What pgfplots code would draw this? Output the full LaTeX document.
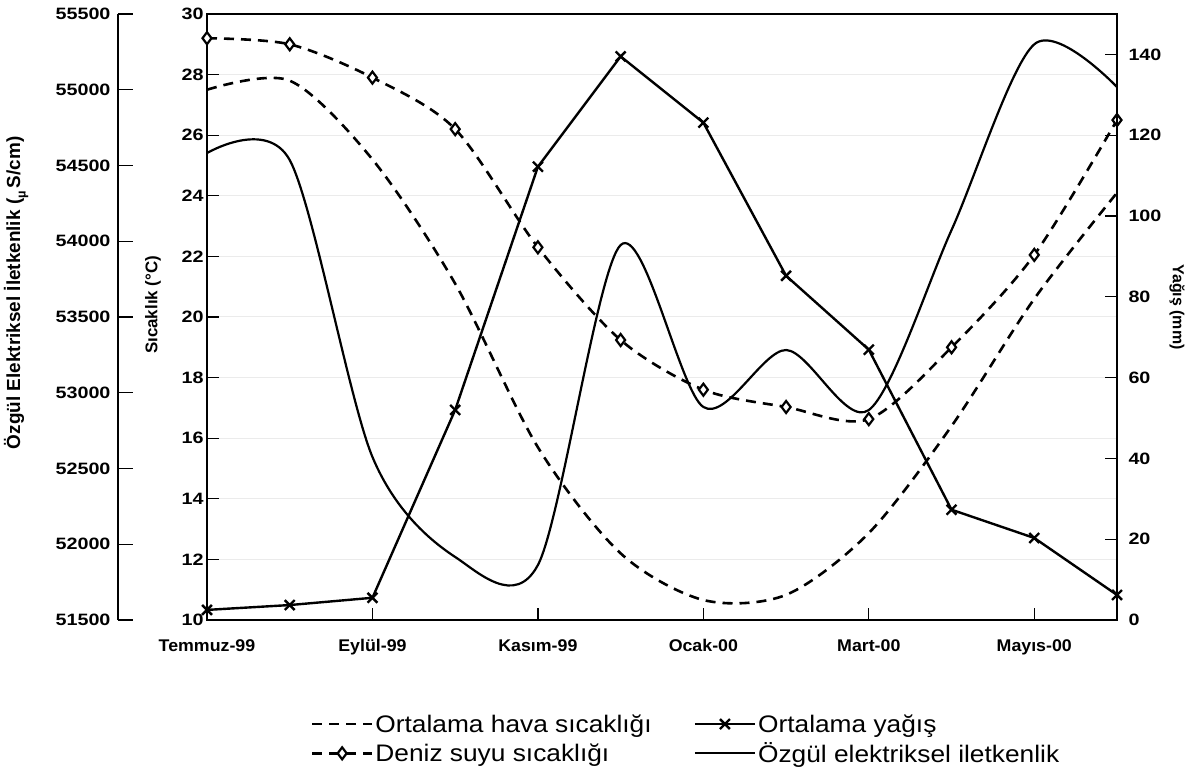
\documentclass[border=0pt]{standalone}
\usepackage{fontspec}
\setmainfont{Liberation Sans}
\newfontfamily\ytickfont{Liberation Sans}[FakeStretch=1.2]
\newfontfamily\xtickfont{Liberation Sans}[FakeStretch=1.05]
\newfontfamily\legfont{Liberation Sans}[FakeStretch=1.1]
\usepackage{pgfplots}
\pgfplotsset{compat=1.18}

\pgfplotsset{
  base/.style={
    scale only axis, height=606bp,
    tick align=inside,
    clip=false,
    tick style={black, line width=1.3bp},
    axis line style={line width=1.6bp},
    major tick length=12bp,
    y tick label style={font=\ytickfont\bfseries\fontsize{16.5}{18}\selectfont},
    x tick label style={font=\xtickfont\bfseries\fontsize{17}{19}\selectfont, yshift=-16bp},
  },
  legend image code/.code={%
    \draw[mark repeat=2,mark phase=2,#1] plot coordinates {(0bp,0bp) (30bp,0bp) (60bp,0bp)};%
  },
}

\begin{document}
\begin{tikzpicture}
\useasboundingbox (-207bp,-154bp) rectangle (987bp,620bp);

% temperature axis (inner left)
\begin{axis}[base,
  at={(0bp,0bp)}, anchor=south west, width=910bp,
  xmin=0, xmax=11, ymin=10, ymax=30,
  xtick={0,2,4,6,8,10},
  xticklabels={Temmuz-99,Eylül-99,Kasım-99,Ocak-00,Mart-00,Mayıs-00},
  ytick={10,12,14,16,18,20,22,24,26,28,30},
  yticklabels={10,12,14,16,18,20,22,24,26,28,30},
  xtick pos=bottom, ytick pos=left,
  ymajorgrids, grid style={black!8, line width=1bp},
  ylabel={\bfseries\fontsize{17}{19}\selectfont Sıcaklık (°C)},
  ylabel style={at={(axis description cs:-0.0594,0.52)}, anchor=center, rotate=0},
]
% Ortalama hava sicakligi
\addplot[black, line width=2.6bp, dash pattern=on 10bp off 7bp, smooth] coordinates {
(0,27.5) (1,27.8) (2,25.2) (3,21.1) (4,15.7) (5,12.2) (6,10.66) (7,10.83) (8,12.87) (9,16.4) (10,20.6) (11,24.1)};
% Deniz suyu sicakligi
\addplot[black, line width=2.6bp, dash pattern=on 10bp off 7bp, smooth,
  mark=diamond*, mark size=6bp, mark options={solid, fill=white, line width=2.2bp}] coordinates {
(0,29.2) (1,29.0) (2,27.9) (3,26.2) (4,22.3) (5,19.24) (6,17.6) (7,17.03) (8,16.63) (9,19.0) (10,22.05) (11,26.5)};
\end{axis}

% rain axis (right)
\begin{axis}[base,
  at={(0bp,0bp)}, anchor=south west, width=910bp,
  xmin=0, xmax=11, ymin=0, ymax=150,
  axis x line=none, axis y line*=right,
  ytick={0,20,40,60,80,100,120,140},
  yticklabels={0,20,40,60,80,100,120,140},
  y tick label style={xshift=8bp},
  ylabel={\bfseries\fontsize{16}{18}\selectfont Yağış (mm)},
  ylabel style={at={(axis description cs:1.066,0.5165)}, anchor=center, rotate=-180},
]
\addplot[black, line width=2.4bp, mark=x, mark size=7bp, mark options={line width=2.4bp}] coordinates {
(0,2.5) (1,3.7) (2,5.5) (3,52.0) (4,112.2) (5,139.5) (6,123.1) (7,85.2) (8,66.9) (9,27.3) (10,20.3) (11,6.2)};
\end{axis}

% conductivity axis (outer left)
\begin{axis}[base,
  at={(-89bp,0bp)}, anchor=south west, width=999bp,
  xmin=-1.07582, xmax=11, ymin=51500, ymax=55500,
  axis x line=none, axis y line*=left,
  major tick length=15bp,
  ytick={51500,52000,52500,53000,53500,54000,54500,55000,55500},
  yticklabels={51500,52000,52500,53000,53500,54000,54500,55000,55500},
  y tick label style={xshift=-4bp},
  ylabel={\bfseries\fontsize{19}{21}\selectfont Özgül Elektriksel İletkenlik (\raisebox{-0.3em}{\fontsize{13}{13}\selectfont µ}\,S/cm)},
  ylabel style={at={(axis description cs:-0.102,0.54)}, anchor=center, rotate=0},
  legend columns=2,
  legend cell align=left,
  legend style={at={(axis description cs:0.5686,-0.149)}, anchor=north, draw=none, fill=none,
    font=\legfont\fontsize{24}{26}\selectfont,
    /tikz/every even column/.append style={column sep=40bp},
    row sep=5bp},
]
\addlegendimage{black, line width=2.6bp, dash pattern=on 10bp off 7bp}
\addlegendimage{black, line width=2.4bp, mark=x, mark size=7bp, mark options={line width=2.4bp}}
\addlegendimage{black, line width=2.6bp, dash pattern=on 10bp off 7bp, mark=diamond*, mark size=6bp, mark options={solid, fill=white, line width=2.2bp}}
\addplot[black, line width=2.2bp, smooth] coordinates {
(0,54582) (1,54536) (2,52576) (3,51916) (4,51863) (5,53975) (6,52906) (7,53282) (8,52886) (9,54074) (10,55300) (11,55018)};
\legend{Ortalama hava sıcaklığı, Ortalama yağış, Deniz suyu sıcaklığı, Özgül elektriksel iletkenlik}
\end{axis}
\end{tikzpicture}
\end{document}
